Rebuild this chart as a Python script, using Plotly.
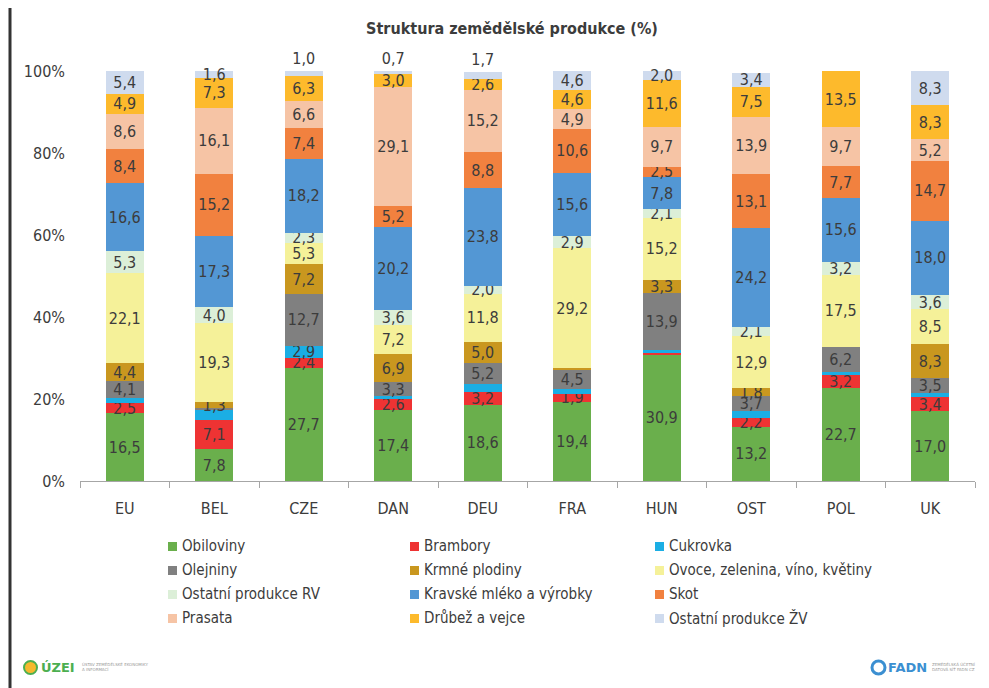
import plotly.graph_objects as go

countries = ["EU", "BEL", "CZE", "DAN", "DEU", "FRA", "HUN", "OST", "POL", "UK"]

obiloviny = [16.5, 7.8, 27.7, 17.4, 18.6, 19.4, 30.9, 13.2, 22.7, 17.0]
brambory = [2.5, 7.1, 2.4, 2.6, 3.2, 1.9, 0.3, 2.2, 3.2, 3.4]
cukrovka = [1.2, 2.6, 2.9, 0.8, 1.9, 1.2, 0.7, 1.7, 0.7, 1.2]
olejniny = [4.1, 0.4, 12.7, 3.3, 5.2, 4.5, 13.9, 3.7, 6.2, 3.5]
krmne = [4.4, 1.3, 7.2, 6.9, 5.0, 0.6, 3.3, 1.8, 0.0, 8.3]
ovoce = [22.1, 19.3, 5.3, 7.2, 11.8, 29.2, 15.2, 12.9, 17.5, 8.5]
ostatni_rv = [5.3, 4.0, 2.3, 3.6, 2.0, 2.9, 2.1, 2.1, 3.2, 3.6]
kravske = [16.6, 17.3, 18.2, 20.2, 23.8, 15.6, 7.8, 24.2, 15.6, 18.0]
skot = [8.4, 15.2, 7.4, 5.2, 8.8, 10.6, 2.5, 13.1, 7.7, 14.7]
prasata = [8.6, 16.1, 6.6, 29.1, 15.2, 4.9, 9.7, 13.9, 9.7, 5.2]
drubez = [4.9, 7.3, 6.3, 3.0, 2.6, 4.6, 11.6, 7.5, 13.5, 8.3]
ostatni_zv = [5.4, 1.6, 1.0, 0.7, 1.7, 4.6, 2.0, 3.4, 0.0, 8.3]

y_ticks = [0, 20, 40, 60, 80, 100]
y_tick_labels = ["0%", "20%", "40%", "60%", "80%", "100%"]

series = [
    ("Obiloviny", obiloviny, "#6AAF4C", []),
    ("Brambory", brambory, "#EE3333", [6]),
    ("Cukrovka", cukrovka, "#1BAEE4", [0, 1, 3, 4, 5, 6, 7, 8, 9]),
    ("Olejniny", olejniny, "#808080", [1]),
    ("Krmné plodiny", krmne, "#C9971F", [5, 8]),
    ("Ovoce, zelenina, víno, květiny", ovoce, "#F5F199", []),
    ("Ostatní produkce RV", ostatni_rv, "#DCEFD8", []),
    ("Kravské mléko a výrobky", kravske, "#5397D4", []),
    ("Skot", skot, "#F1813F", []),
    ("Prasata", prasata, "#F6C4A5", []),
    ("Drůbež a vejce", drubez, "#FDBA2C", []),
    ("Ostatní produkce ŽV", ostatni_zv, "#CFDBEE", [8]),
]
# top-segment labels drawn just above the bar (CZE, DAN, DEU)
outside_top = [2, 3, 4]

FONT = "DejaVu Sans Condensed, Liberation Sans Narrow, sans-serif"
TXT = "#3C3C3C"

# the page body has an 8px margin; work in screenshot pixels and shift
OFF = 8
W, H = 989 - OFF, 688 - OFF
L, R, T, B = 80 - OFF, 22 - OFF, 71 - OFF, 207
pw, ph = W - L - R, H - T - B


def px(x):
    return (x - OFF - L) / pw


def py(y):
    return (H - B - (y - OFF)) / ph


n_series = len(series)
fig = go.Figure()
for k, (name, vals, color, unlabeled) in enumerate(series):
    texts = ["" if i in unlabeled else f"{v:.1f}".replace(".", ",") for i, v in enumerate(vals)]
    if k == n_series - 1:
        positions = ["outside" if i in outside_top else "inside" for i in range(len(vals))]
    else:
        positions = "inside"
    fig.add_trace(go.Bar(
        x=countries, y=vals, name=name,
        marker=dict(color=color, line=dict(width=0)),
        text=texts, textposition=positions, insidetextanchor="middle",
        textangle=0, constraintext="none", cliponaxis=False,
        textfont=dict(family=FONT, size=16, color=TXT),
        showlegend=False, hoverinfo="skip",
    ))

fig.update_layout(
    width=W, height=H,
    margin=dict(l=L, r=R, t=T, b=B, autoexpand=False),
    paper_bgcolor="white", plot_bgcolor="white",
    barmode="stack", bargap=0.58,
    title=dict(text="<b>Struktura zemědělské produkce (%)</b>",
               x=(512 - OFF) / W, xanchor="center", y=1 - (28 - OFF) / H, yanchor="middle",
               font=dict(family=FONT, size=16, color=TXT)),
    xaxis=dict(showline=True, linecolor="#A6A6A6", linewidth=1, automargin=False,
               ticks="outside", tickson="boundaries", ticklen=6, tickcolor="#A6A6A6",
               tickfont=dict(family=FONT, size=16, color=TXT), ticklabelstandoff=13,
               showgrid=False, fixedrange=True),
    yaxis=dict(range=[0, 100.1], tickmode="array", tickvals=y_ticks, ticktext=y_tick_labels,
               showgrid=False, zeroline=False, showline=False, automargin=False,
               tickfont=dict(family=FONT, size=16, color=TXT),
               ticks="", ticklabelstandoff=14, fixedrange=True),
    showlegend=False,
)

# manual legend: 3 columns, row-major order
col_x = [168, 410, 655]
row_y = [546, 570, 594, 618]
for k, (name, vals, color, unlabeled) in enumerate(series):
    cx = col_x[k % 3]
    cy = row_y[k // 3]
    fig.add_shape(type="rect", xref="paper", yref="paper",
                  x0=px(cx), x1=px(cx + 9), y0=py(cy + 5), y1=py(cy - 4),
                  fillcolor=color, line=dict(width=0))
    fig.add_annotation(xref="paper", yref="paper", x=px(cx + 12), y=py(cy),
                       xanchor="left", yanchor="middle", text=name, showarrow=False,
                       font=dict(family=FONT, size=15, color=TXT))

# frame line on the left edge
fig.add_shape(type="line", xref="paper", yref="paper",
              x0=px(10), x1=px(10), y0=py(OFF), y1=py(688), line=dict(color="#333333", width=3))

# logos as text
fig.add_shape(type="circle", xref="paper", yref="paper",
              x0=px(24), x1=px(37), y0=py(674), y1=py(661),
              fillcolor="#F5B82E", line=dict(color="#4CAF50", width=2))
fig.add_annotation(xref="paper", yref="paper", x=px(39), y=py(667), xanchor="left", yanchor="middle",
                   text="<b>ÚZEI</b>", showarrow=False,
                   font=dict(family="DejaVu Sans", size=13, color="#4CAF50"))
fig.add_annotation(xref="paper", yref="paper", x=px(80), y=py(667), xanchor="left", yanchor="middle",
                   text="ÚSTAV ZEMĚDĚLSKÉ EKONOMIKY<br>A INFORMACÍ", showarrow=False, align="left",
                   font=dict(family="DejaVu Sans", size=4, color="#999999"))
fig.add_shape(type="circle", xref="paper", yref="paper",
              x0=px(872), x1=px(885), y0=py(674), y1=py(661),
              fillcolor="white", line=dict(color="#3B8FD1", width=3))
fig.add_annotation(xref="paper", yref="paper", x=px(886), y=py(667), xanchor="left", yanchor="middle",
                   text="<b>FADN</b>", showarrow=False,
                   font=dict(family="DejaVu Sans", size=13, color="#3B8FD1"))
fig.add_annotation(xref="paper", yref="paper", x=px(930), y=py(667), xanchor="left", yanchor="middle",
                   text="ZEMĚDĚLSKÁ ÚČETNÍ<br>DATOVÁ SÍŤ FADN CZ", showarrow=False, align="left",
                   font=dict(family="DejaVu Sans", size=4, color="#999999"))

fig.write_html("out.html")
